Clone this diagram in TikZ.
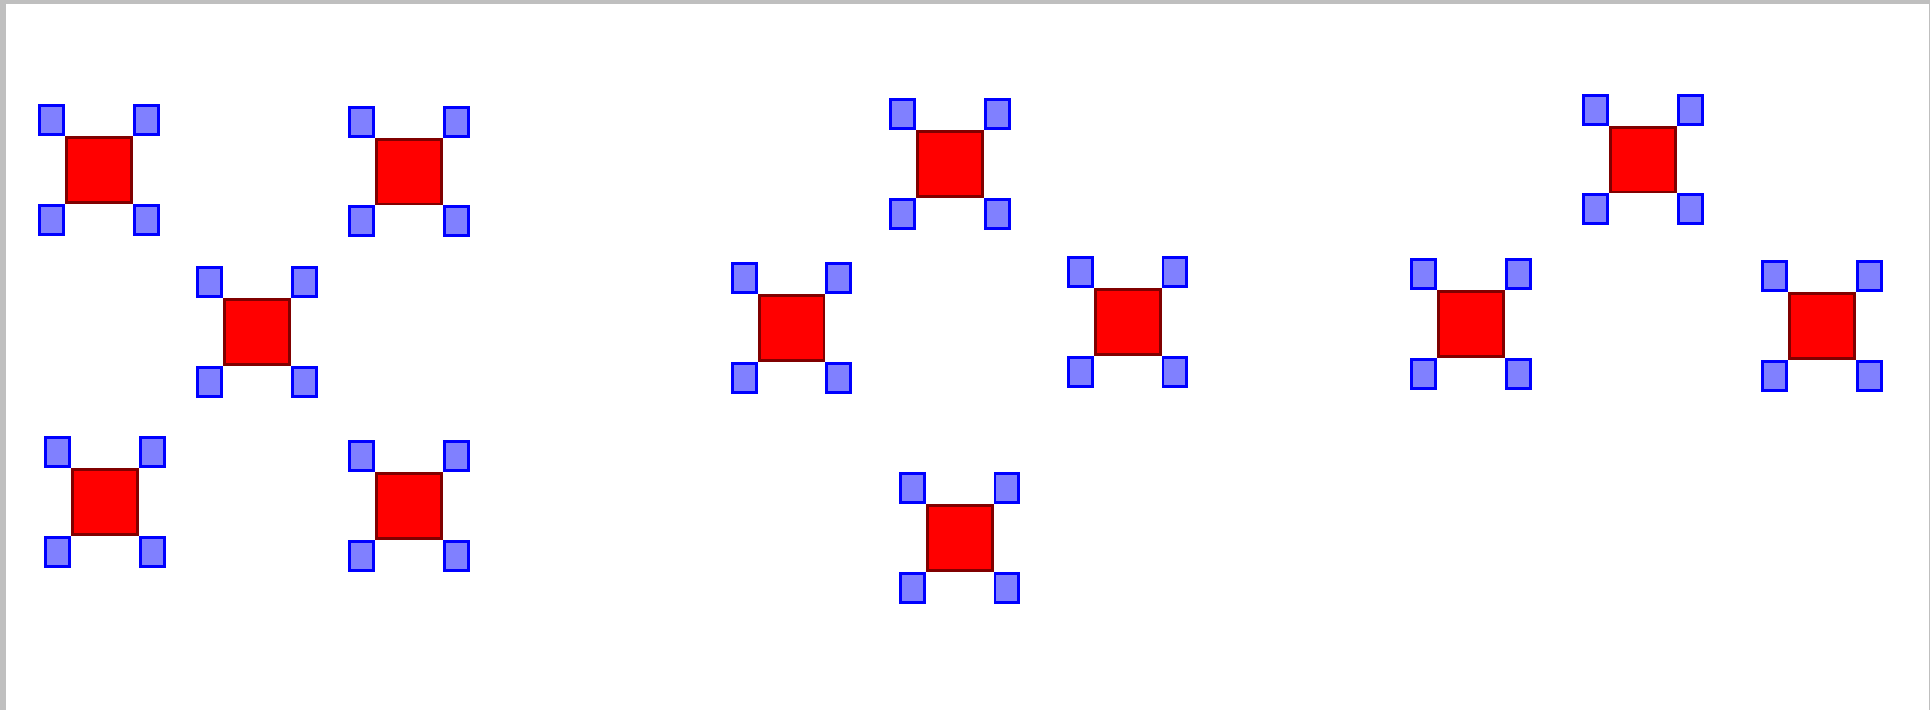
\documentclass[tikz,border=0pt]{standalone}
\usepackage{tikz}
\usetikzlibrary{positioning}

\begin{document}
\begin{tikzpicture}[
      x=0.02cm, y=-0.02cm, node distance=0pt,
      core/.style={draw=red!50!black, fill=red, line width=1.7pt,
                   minimum size=1.3cm, inner sep=0pt},
      tab/.style={draw=blue, fill=blue!50, line width=1.7pt,
                  minimum width=0.48cm, minimum height=0.58cm, inner sep=0pt},
    ]
    \useasboundingbox (0,0) rectangle (1930,710);
    % frame
    \fill[gray!50] (0,0) rectangle (6,710);
    \fill[gray!50] (0,0) rectangle (1930,4);
    \fill[gray!50] (1929,0) rectangle (1930,710);

    \foreach \n/\x/\y in {1/99/170, 2/409/171.5, 3/257/332.3, 4/105/502.3,
                          5/409/506.3, 6/950/164, 7/791.5/328, 8/1127.5/322,
                          9/959.5/538, 10/1643/159.5, 11/1471/324.3,
                          12/1822/326.2} {
      \node[core] (r\n) at (\x,\y) {};
      \node[tab, above left=of r\n.north west] (r\n-nw) {};
      \node[tab, above right=of r\n.north east] (r\n-ne) {};
      \node[tab, below left=of r\n.south west] (r\n-sw) {};
      \node[tab, below right=of r\n.south east] (r\n-se) {};
    }
  \end{tikzpicture}
\end{document}
